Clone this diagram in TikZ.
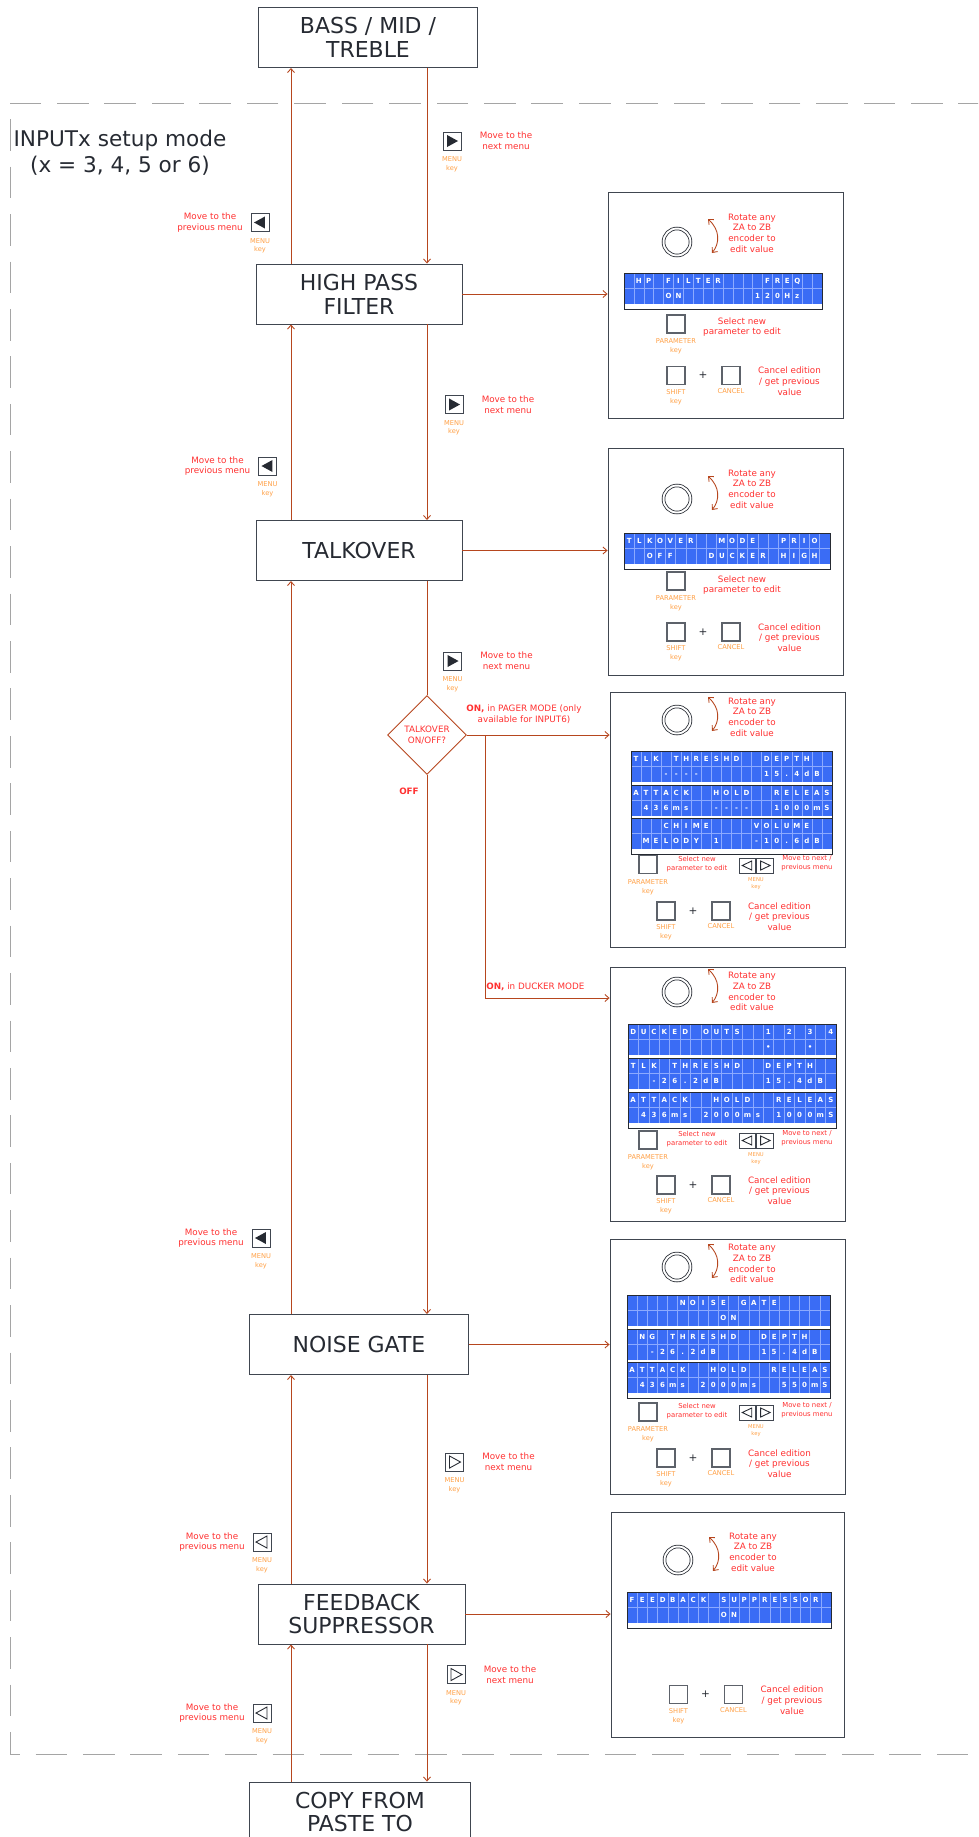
\documentclass[tikz,border=0pt]{standalone}
\usepackage{fontspec}
\setmainfont{DejaVu Sans}
\usetikzlibrary{arrows.meta,positioning,shapes.geometric,fit}

\definecolor{flowred}{RGB}{182,70,30}
\definecolor{hintred}{RGB}{255,48,48}
\definecolor{keyorange}{RGB}{255,160,70}
\definecolor{boxline}{RGB}{64,70,80}
\definecolor{ink}{RGB}{38,42,50}
\definecolor{lcdblue}{RGB}{58,108,245}
\definecolor{lcdgrid}{RGB}{140,170,255}
\definecolor{dashgray}{RGB}{165,165,165}

\tikzset{
  stage/.style={draw=boxline, rectangle, line width=0.55pt, minimum height=1.2cm, align=center, text=ink, font=\fontsize{12.5}{13.6}\selectfont},
  panel/.style={draw=boxline, rectangle, line width=0.5pt, inner sep=0pt},
  decide/.style={draw=flowred, diamond, aspect=1, line width=0.5pt, minimum width=1.58cm, minimum height=1.58cm, inner sep=0pt, align=center, text=hintred, font=\fontsize{5}{6}\selectfont},
  flow/.style={draw=flowred, line width=0.5pt},
  arr/.style={flow, -{Straight Barb[length=0.8mm, width=1.4mm]}},
  twoway/.style={flow, {Straight Barb[length=0.8mm, width=1.4mm]}-{Straight Barb[length=0.8mm, width=1.4mm]}},
  hint/.style={text=hintred, align=center, inner sep=0pt, font=\fontsize{5}{6.1}\selectfont},
  shint/.style={hint, font=\fontsize{3.9}{5.1}\selectfont},
  keylbl/.style={text=keyorange, align=center, inner sep=0pt, font=\fontsize{3.8}{5}\selectfont},
  keyq/.style={draw=boxline, fill=white, rectangle, line width=0.5pt, minimum size=0.36cm, inner sep=0pt},
  pkey/.style={draw=boxline!85, rectangle, line width=0.7pt, minimum size=0.36cm, inner sep=0pt},
  mkey/.style={keyq, minimum width=0.33cm, minimum height=0.3cm},
  knob/.style={draw=ink, circle, double, double distance=1.1pt, line width=0.45pt, minimum size=0.54cm, inner sep=0pt},
  lcdch/.style={text=white, inner sep=0pt, text height=2.9pt, text depth=0pt, font=\fontsize{4}{4}\selectfont\bfseries},
  modeframe/.style={draw=dashgray, line width=0.5pt, dash pattern=on 18pt off 9pt},
  trinext/.style={path picture={\path[#1] ([xshift=2.3pt, yshift=-1.7pt]path picture bounding box.north west) -- ([xshift=2.3pt, yshift=1.7pt]path picture bounding box.south west) -- ([xshift=-1.7pt]path picture bounding box.east) -- cycle;}},
  triprev/.style={path picture={\path[#1] ([xshift=-2.3pt, yshift=-1.7pt]path picture bounding box.north east) -- ([xshift=-2.3pt, yshift=1.7pt]path picture bounding box.south east) -- ([xshift=1.7pt]path picture bounding box.west) -- cycle;}},
  fnext/.style={keyq, trinext={fill=ink}},
  fprev/.style={keyq, triprev={fill=ink}},
  onext/.style={keyq, trinext={draw=ink, line width=0.5pt}},
  oprev/.style={keyq, triprev={draw=ink, line width=0.5pt}},
  mnext/.style={mkey, trinext={draw=ink, line width=0.5pt}},
  mprev/.style={mkey, triprev={draw=ink, line width=0.5pt}},
}

% one two-line LCD block: name, x, y, cell width, upper row, lower row
\newcommand{\lcdblock}[6]{%
  \fill[lcdblue] (#2,#3) rectangle ++({20*#4},31);
  \foreach \k in {1,...,19}
    \draw[lcdgrid, line width=0.3pt] ({#2+\k*#4},#3) -- ++(0,31);
  \draw[lcdgrid, line width=0.3pt] (#2,{#3+15.5}) -- ++({20*#4},0);
  \draw[ink, line width=0.45pt] (#2,#3) rectangle ++({20*#4},36);
  \foreach \ch [count=\i] in {#5}
    \node[lcdch] (#1a\i) at ({#2+(\i-0.5)*#4},{#3+7.75}) {\ch};
  \foreach \ch [count=\i] in {#6}
    \node[lcdch] (#1b\i) at ({#2+(\i-0.5)*#4},{#3+23.25}) {\ch};
}

\begin{document}
\begin{tikzpicture}[x=0.02cm, y=-0.02cm]
\useasboundingbox (0,0) rectangle (978,1837);
\clip (0,0) rectangle (978,1837);

% setup mode frame
\draw[modeframe] (990,103) -- (10,103) -- (10,1754) -- (990,1754);
\node[align=center, text=ink, font=\fontsize{12.3}{14.7}\selectfont] (mode) at (120,153)
  {INPUTx setup mode\\(x = 3, 4, 5 or 6)};

% menu stages
\node[stage, minimum width=4.4cm] (bass) at (368,37.5) {BASS / MID /\\TREBLE};
\node[stage, minimum width=4.12cm] (hpf) at (359,294) {HIGH PASS\\FILTER};
\node[stage, minimum width=4.12cm] (talk) at (359,550.5) {TALKOVER};
\node[decide] (tk) at (427,735) {TALKOVER\\ON/OFF?};
\node[stage, minimum width=4.4cm] (noise) at (359,1344.5) {NOISE GATE};
\node[stage, minimum width=4.14cm] (feed) at (361.5,1614) {FEEDBACK\\SUPPRESSOR};
\node[stage, minimum width=4.44cm] (copy) at (360,1812) {COPY FROM\\PASTE TO};

% display panels
\node[panel, fit={(608,192) (843,418)}] (p1) {};
\node[panel, fit={(608,448) (843,675)}] (p2) {};
\node[panel, fit={(610,692) (845,947)}] (p3) {};
\node[panel, fit={(610,967) (845,1221)}] (p4) {};
\node[panel, fit={(610,1239) (845,1494)}] (p5) {};
\node[panel, fit={(611,1512) (844,1737)}] (p6) {};

% columns
\coordinate (lc) at (291,0);
\coordinate (rc) at (427,0);
\draw[arr] (hpf.north -| lc) -- (bass.south -| lc);
\draw[arr] (bass.south -| rc) -- (hpf.north -| rc);
\draw[arr] (talk.north -| lc) -- (hpf.south -| lc);
\draw[arr] (hpf.south -| rc) -- (talk.north -| rc);
\draw[flow] (talk.south -| rc) -- (tk.north);
\draw[arr] (tk.south) -- (noise.north -| rc);
\draw[arr] (noise.north -| lc) -- (talk.south -| lc);
\draw[arr] (feed.north -| lc) -- (noise.south -| lc);
\draw[arr] (noise.south -| rc) -- (feed.north -| rc);
\draw[arr] (copy.north -| lc) -- (feed.south -| lc);
\draw[arr] (feed.south -| rc) -- (copy.north -| rc);

% to the panels
\draw[arr] (hpf.east) -- (hpf.east -| p1.west);
\draw[arr] (talk.east) -- (talk.east -| p2.west);
\draw[arr] (tk.east) -- (tk.east -| p3.west);
\coordinate (split) at (485,735);
\coordinate (bend) at (485,998);
\draw[flow] (split) -- (bend);
\draw[arr] (bend) -- (bend -| p4.west);
\draw[arr] (noise.east) -- (noise.east -| p5.west);
\draw[arr] (feed.east) -- (feed.east -| p6.west);

\node[hint] (pager) at (524,714.5) {\textbf{ON,} in PAGER MODE (only\\available for INPUT6)};
\node[hint, anchor=west] (ducker) at (486,987) {\textbf{ON,} in DUCKER MODE};
\node[hint] (off) at (409,791) {\textbf{OFF}};

% MENU keys along the columns
\foreach \nm/\x/\y/\kind in {n1/452/141/fnext, n3/454/404.5/fnext, n5/452.5/661/fnext,
    n7/454.5/1462/onext, n9/456/1674.5/onext} {
  \node[\kind] (\nm) at (\x,\y) {};
  \node[hint, right=0.36cm of \nm] (\nm t) {Move to the\\next menu};
  \node[keylbl, below=0.12cm of \nm] (\nm k) {MENU\\key};
}
\foreach \nm/\x/\y/\kind in {n2/260/222.5/fprev, n4/267.5/466/fprev, n6/261/1238/fprev,
    n8/262/1542/oprev, n10/262/1713/oprev} {
  \node[\kind] (\nm) at (\x,\y) {};
  \node[hint, left=0.15cm of \nm] (\nm t) {Move to the\\previous menu};
  \node[keylbl, below=0.12cm of \nm] (\nm k) {MENU\\key};
}

% encoders
\foreach \p/\x/\y/\ty in {1/677/242/233, 2/677/499/489, 3/677/720/717,
    4/677/992/991.5, 5/677/1267/1263.5, 6/678/1560/1552} {
  \node[knob] (k\p) at (\x,\y) {};
  \draw[twoway] ({\x+31},{\y-23}) .. controls ({\x+43},{\y-12}) and ({\x+43},{\y+1}) .. ({\x+35},{\y+11});
  \node[hint] (r\p) at ({\x+75},\ty) {Rotate any\\ZA to ZB\\encoder to\\edit value};
}

% shift + cancel
\foreach \p/\x/\y in {1/676/375.5, 2/676/632, 3/666/911, 4/666/1185, 5/666/1458, 6/678.5/1694.5} {
  \node[pkey] (s\p) at (\x,\y) {};
  \node[keylbl, below=0.08cm of s\p] (s\p l) {SHIFT\\key};
  \node[text=ink, inner sep=0pt, font=\fontsize{6}{6}\selectfont] (plus\p) at ({\x+27},\y) {+};
  \node[pkey] (c\p) at ({\x+55},\y) {};
  \node[keylbl, below=0.06cm of c\p] (c\p l) {CANCEL};
  \node[hint] (e\p) at ({\x+113.5},{\y+5.5}) {Cancel edition\\/ get previous\\value};
}

% parameter keys
\foreach \p/\x/\y/\sx/\sy/\kind in {1/676/324/742/327/hint, 2/676/581/742/585/hint,
    3/648/864.5/697/864.5/shint, 4/648/1140/697/1139.5/shint, 5/648/1412/697/1411.5/shint} {
  \node[pkey] (a\p) at (\x,\y) {};
  \node[keylbl, below=0.1cm of a\p] (a\p l) {PARAMETER\\key};
  \node[\kind] (a\p t) at (\sx,\sy) {Select new\\parameter to edit};
}

% menu keys inside the panels
\foreach \p/\y in {3/865.5, 4/1140.5, 5/1412.5} {
  \node[mprev] (m\p a) at (747.5,\y) {};
  \node[mnext, right=0pt of m\p a] (m\p b) {};
  \node[keylbl, font=\fontsize{3}{4}\selectfont] (m\p l) at (756,{\y+18}) {MENU\\key};
  \node[shint] (m\p t) at (807,{\y-2}) {Move to next /\\previous menu};
}

% LCD contents
\lcdblock{l1}{624}{273}{9.9}{~,H,P,~,F,I,L,T,E,R,~,~,~,~,F,R,E,Q,~,~}{~,~,~,~,O,N,~,~,~,~,~,~,~,1,2,0,H,z,~,~}
\lcdblock{l2}{624}{533}{10.3}{T,L,K,O,V,E,R,~,~,M,O,D,E,~,~,P,R,I,O,~}{~,~,O,F,F,~,~,~,D,U,C,K,E,R,~,H,I,G,H,~}

\lcdblock{l3}{631}{751}{10.05}{T,L,K,~,T,H,R,E,S,H,D,~,~,D,E,P,T,H,~,~}{~,~,~,-,-,-,-,~,~,~,~,~,~,1,5,.,4,d,B,~}
\lcdblock{l4}{631}{785}{10.05}{A,T,T,A,C,K,~,~,H,O,L,D,~,~,R,E,L,E,A,S}{~,4,3,6,m,s,~,~,-,-,-,-,~,~,1,0,0,0,m,S}
\lcdblock{l5}{631}{818}{10.05}{~,~,~,C,H,I,M,E,~,~,~,~,V,O,L,U,M,E,~,~}{~,M,E,L,O,D,Y,~,1,~,~,~,-,1,0,.,6,d,B,~}

\lcdblock{l6}{628}{1024}{10.4}{D,U,C,K,E,D,~,O,U,T,S,~,~,1,~,2,~,3,~,4}{~,~,~,~,~,~,~,~,~,~,~,~,~,\textbullet,~,~,~,\textbullet,~,~}
\lcdblock{l7}{628}{1058}{10.4}{T,L,K,~,T,H,R,E,S,H,D,~,~,D,E,P,T,H,~,~}{~,~,-,2,6,.,2,d,B,~,~,~,~,1,5,.,4,d,B,~}
\lcdblock{l8}{628}{1092}{10.4}{A,T,T,A,C,K,~,~,H,O,L,D,~,~,R,E,L,E,A,S}{~,4,3,6,m,s,~,2,0,0,0,m,s,~,1,0,0,0,m,S}

\lcdblock{l9}{627}{1295}{10.15}{~,~,~,~,~,N,O,I,S,E,~,G,A,T,E,~,~,~,~,~}{~,~,~,~,~,~,~,~,~,O,N,~,~,~,~,~,~,~,~,~}
\lcdblock{l10}{627}{1329}{10.15}{~,N,G,~,T,H,R,E,S,H,D,~,~,D,E,P,T,H,~,~}{~,~,-,2,6,.,2,d,B,~,~,~,~,1,5,.,4,d,B,~}
\lcdblock{l11}{627}{1362}{10.15}{A,T,T,A,C,K,~,~,H,O,L,D,~,~,R,E,L,E,A,S}{~,4,3,6,m,s,~,2,0,0,0,m,s,~,~,5,5,0,m,S}

\lcdblock{l12}{627}{1592}{10.2}{F,E,E,D,B,A,C,K,~,S,U,P,P,R,E,S,S,O,R,~}{~,~,~,~,~,~,~,~,~,O,N,~,~,~,~,~,~,~,~,~}

\end{tikzpicture}
\end{document}
